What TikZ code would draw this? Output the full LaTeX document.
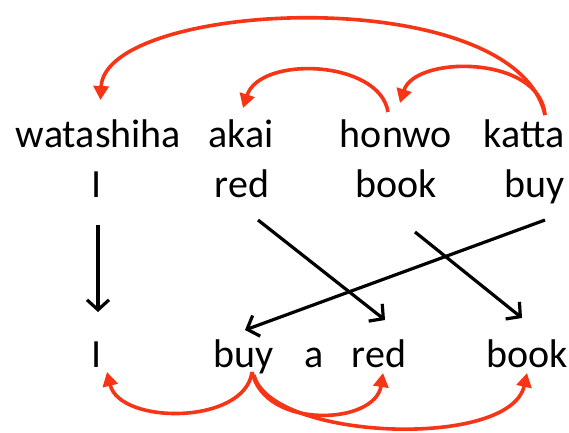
\documentclass[tikz,border=0pt]{standalone}
\usepackage{fontspec}
\setmainfont{Carlito}
\usetikzlibrary{arrows.meta}
\definecolor{linkred}{RGB}{246,52,22}
\begin{document}
\begin{tikzpicture}[x=1pt,y=-1pt,
  word/.style={anchor=base,inner sep=0pt,font=\fontsize{40}{48}\selectfont},
  dep/.style={draw=linkred,line width=3.6pt,-{Triangle[length=14pt,width=15pt]}},
  align/.style={draw=black,line width=3.2pt,-{Straight Barb[length=10pt,width=22pt]}}]
\useasboundingbox[fill=white] (0,0) rectangle (569,432);

% Japanese sentence
\node[word] (w1) at (98.5,147) {watashiha};
\node[word] (w2) at (241,147) {akai};
\node[word] (w3) at (396,147) {honwo};
\node[word] (w4) at (524,147) {katta};

% word-by-word glosses
\node[word] (g1) at (97,197) {I};
\node[word] (g2) at (242,197) {red};
\node[word] (g3) at (396,197) {book};
\node[word] (g4) at (535,197) {buy};

% English sentence
\node[word] (e1) at (97,367) {I};
\node[word] (e2) at (244,367) {buy};
\node[word] (e3) at (314,367) {a};
\node[word] (e4) at (379,367) {red};
\node[word] (e5) at (527,367) {book};

% dependency arcs above the Japanese sentence
\draw[dep] ([shift={(21,-32)}]w4.base) .. controls (515,-20) and (105,0) .. ([shift={(2,-47)}]w1.base);
\draw[dep] ([shift={(-8,-35)}]w3.base) .. controls (380,60) and (260,55) .. ([shift={(2,-39)}]w2.base);
\draw[dep] ([shift={(21,-32)}]w4.base) .. controls (540,55) and (415,55) .. ([shift={(4,-44)}]w3.base);

% reordering
\draw[align] ([shift={(1,28)}]g1.base) -- ([shift={(1,-55)}]e1.base);
\draw[align] ([shift={(16,23)}]g2.base) -- ([shift={(6,-47)}]e4.base);
\draw[align] ([shift={(19,35)}]g3.base) -- ([shift={(-5,-49)}]e5.base);
\draw[align] ([shift={(10,23)}]g4.base) -- ([shift={(1,-37)}]e2.base);

% dependency arcs below the English sentence
\draw[dep] ([shift={(8,5)}]e2.base) .. controls (245,425) and (120,425) .. ([shift={(10,5)}]e1.base);
\draw[dep] ([shift={(8,5)}]e2.base) .. controls (265,430) and (375,425) .. ([shift={(4,6)}]e4.base);
\draw[dep] ([shift={(10,8)}]e2.base) .. controls (270,440) and (510,450) .. ([shift={(0,6)}]e5.base);
\end{tikzpicture}
\end{document}
